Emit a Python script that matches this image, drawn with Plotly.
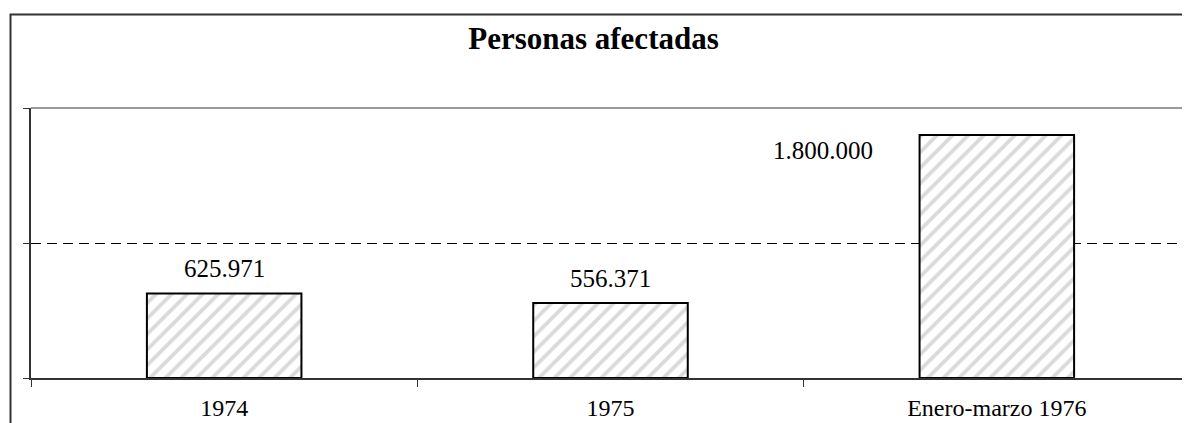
import plotly.graph_objects as go

categories = ["1974", "1975", "Enero-marzo 1976"]
personas = [625971, 556371, 1800000]
y_ticks = [0, 1000000, 2000000]

W, H = 1190, 423
OFF = 8  # page body margin of the html page
# plot area in screen pixels: left 31, top 108, bottom 378, right edge of window
L, T = 31 - OFF, 108 - OFF
B = H - (378 - OFF)
R = OFF
pw = W - L - R
ph = H - T - B


def px_x(p):
    return (p - OFF - L) / pw


def px_y(p):
    return (H - B - (p - OFF)) / ph


def fmt(v):
    return f"{v:,}".replace(",", ".")


fig = go.Figure()

fig.add_trace(go.Bar(
    x=categories, y=personas, width=0.4,
    marker=dict(color="white",
                line=dict(color="black", width=2),
                pattern=dict(shape="/", fgcolor="#b5b5b5", bgcolor="white",
                             size=11, solidity=0.35)),
    hoverinfo="skip", showlegend=False))

serif = "Liberation Serif, Times New Roman, serif"
annots = []
for i, v in enumerate(personas):
    if i < 2:
        annots.append(dict(x=i, y=v, text=fmt(v), showarrow=False,
                           xanchor="center", yanchor="bottom", yshift=9,
                           font=dict(family=serif, size=25, color="black")))
    else:
        annots.append(dict(x=i, y=v, text=fmt(v), showarrow=False,
                           xanchor="right", yanchor="top", xshift=-122, yshift=0,
                           font=dict(family=serif, size=25, color="black")))

# outer frame and top edge of plot area
shapes = [
    dict(type="path", xref="paper", yref="paper",
         path=f"M {px_x(10.5)},{px_y(440)} L {px_x(10.5)},{px_y(14.5)} L {px_x(1220)},{px_y(14.5)}",
         line=dict(color="#333333", width=2)),
    dict(type="line", xref="paper", yref="paper", x0=0, x1=1, y0=1, y1=1,
         line=dict(color="#999999", width=2)),
]

fig.update_layout(
    width=W, height=H,
    margin=dict(l=L, r=R, t=T, b=B),
    paper_bgcolor="white", plot_bgcolor="white",
    title=dict(text="<b>Personas afectadas</b>", x=(593.5 - OFF) / W, xanchor="center",
               y=1 - (38 - OFF) / H, yanchor="middle",
               font=dict(family=serif, size=31, color="black")),
    annotations=annots,
    shapes=shapes,
    bargap=0.6,
)

fig.update_xaxes(type="category", range=[-0.5, 2.5],
                 showline=True, linecolor="#333333", linewidth=2,
                 ticks="outside", tickson="boundaries", ticklen=7,
                 tickcolor="#333333", tickwidth=1,
                 showgrid=False, ticklabelstandoff=7,
                 tickfont=dict(family=serif, size=24, color="black"))

fig.update_yaxes(range=[0, 2000000], tickvals=y_ticks,
                 showticklabels=False, ticks="outside", ticklen=6,
                 tickcolor="#333333", tickwidth=1,
                 showline=True, linecolor="#333333", linewidth=2,
                 showgrid=True, gridcolor="black", gridwidth=1,
                 griddash="10px,6px", zeroline=False)

fig.write_html("out.html")
